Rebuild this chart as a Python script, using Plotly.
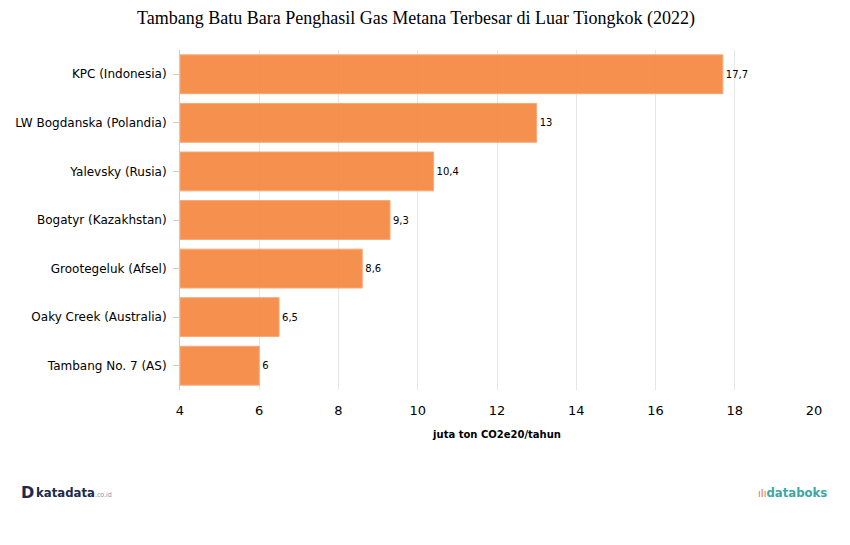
import plotly.graph_objects as go

categories = ["KPC (Indonesia)", "LW Bogdanska (Polandia)", "Yalevsky (Rusia)",
              "Bogatyr (Kazakhstan)", "Grootegeluk (Afsel)", "Oaky Creek (Australia)",
              "Tambang No. 7 (AS)"]
values = [17.7, 13, 10.4, 9.3, 8.6, 6.5, 6]
labels = ["17,7", "13", "10,4", "9,3", "8,6", "6,5", "6"]
x_ticks = [4, 6, 8, 10, 12, 14, 16, 18, 20]
axis_start = 4

fig = go.Figure(go.Bar(
    x=[v - axis_start for v in values], y=categories, orientation="h",
    base=axis_start,
    text=labels, textposition="outside", cliponaxis=False,
    textfont=dict(family="DejaVu Sans", size=10, color="#000"),
    marker=dict(color="rgba(244,132,60,0.9)", line=dict(color="#F8A878", width=1)),
    width=0.8,
))

fig.update_layout(
    width=850, height=545,
    paper_bgcolor="white", plot_bgcolor="white",
    margin=dict(l=172, r=44, t=42, b=163),
    title=dict(text="Tambang Batu Bara Penghasil Gas Metana Terbesar di Luar Tiongkok (2022)",
               x=0.48, xanchor="center", y=0.983, yanchor="middle",
               font=dict(family="Liberation Serif", size=18, color="#000")),
    showlegend=False,
    xaxis=dict(range=[4, 20], tickvals=x_ticks, ticktext=[str(t) for t in x_ticks],
               showgrid=True, gridcolor="#E6E6E6", gridwidth=1, zeroline=False,
               showline=False, ticks="outside", ticklen=8, tickcolor="rgba(0,0,0,0)",
               automargin=False,
               tickfont=dict(family="DejaVu Sans", size=13, color="#000"),
               title=dict(text="<b>juta ton CO2e20/tahun</b>", standoff=14,
                          font=dict(family="DejaVu Sans", size=10, color="#000"))),
    yaxis=dict(categoryorder="array", categoryarray=categories[::-1],
               showline=True, linecolor="#CCCCCC", linewidth=1,
               ticks="outside", ticklen=6, tickcolor="#CCCCCC",
               ticklabelstandoff=4, automargin=False,
               tickfont=dict(family="DejaVu Sans", size=12, color="#000"),
               showgrid=False),
    font=dict(family="DejaVu Sans"),
)

fig.add_annotation(text="<b>D</b>", xref="paper", yref="paper", x=-0.2535, y=-0.3,
                   xanchor="left", yanchor="middle", showarrow=False,
                   font=dict(family="DejaVu Sans", size=16, color="#1B2A4E"))
fig.add_annotation(text="<b>katadata</b><span style='font-size:7px;color:#8A94A6'>.co.id</span>",
                   xref="paper", yref="paper", x=-0.2295, y=-0.3,
                   xanchor="left", yanchor="middle", showarrow=False,
                   font=dict(family="DejaVu Sans Condensed", size=13, color="#1B2A4E"))
fig.add_annotation(text="<span style='color:#E8704A;font-size:11px'>ıIı</span><b>databoks</b>",
                   xref="paper", yref="paper", x=1.024, y=-0.3,
                   xanchor="right", yanchor="middle", showarrow=False,
                   font=dict(family="DejaVu Sans Condensed", size=13, color="#3FA7A3"))

fig.write_html("out.html")
